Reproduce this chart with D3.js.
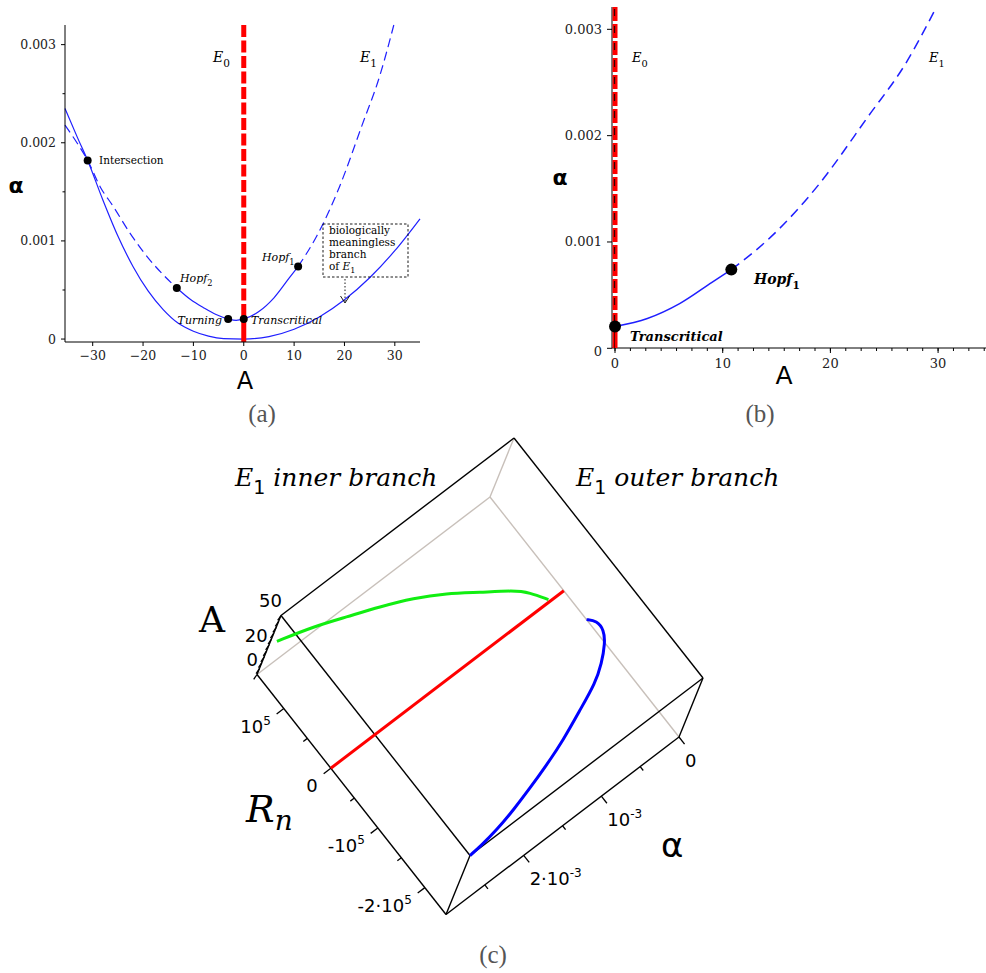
<!DOCTYPE html>
<html>
<head>
<meta charset="utf-8">
<script src="https://cdn.jsdelivr.net/npm/d3@7"></script>
<style>
  body { margin: 0; background: #fff; }
  svg { display: block; }
</style>
</head>
<body>
<svg id="fig" width="986" height="973"></svg>
<script>
// ---- data ----
// E1 inner branch (upper curve of panel a), A vs alpha
const innerA     = [-35.5, -33, -31, -28.5, -25.9, -22.6, -19.2, -15.9, -13.3, -10.5, -8, -5.5, -3.1, -1.5, 0, 3, 6, 9, 10.8, 14.5, 19, 23.5, 27, 29.8];
const innerAlpha = [0.00218, 0.00199, 0.00182, 0.00155, 0.00135, 0.00108, 0.00084, 0.00065, 0.00052, 0.0004, 0.00032, 0.00025, 0.000205, 0.00019, 0.000205, 0.00028, 0.00042, 0.00062, 0.00074, 0.00105, 0.00155, 0.00218, 0.00268, 0.0032];
// E1 outer branch (lower solid curve of panel a)
const outerA     = [-35.5, -33, -31, -28, -25, -22, -19, -16, -13, -10, -7, -4, 0, 5, 10, 15, 20, 25, 30, 35];
const outerAlpha = [0.00235, 0.00205, 0.00182, 0.00142, 0.00105, 0.00074, 0.00049, 0.0003, 0.00016, 0.00008, 0.00003, 0.000005, 0, 0.000025, 0.0001, 0.000225, 0.0004, 0.000625, 0.0009, 0.001225];
// bifurcation points
const pointNames = ["Intersection", "Hopf2", "Turning", "Transcritical", "Hopf1"];
const pointA     = [-31, -13.3, -3.1, 0, 10.8];
const pointAlpha = [0.00182, 0.00052, 0.000205, 0.000205, 0.00074];

const ticksXa = [-30, -20, -10, 0, 10, 20, 30];
const ticksXb = [0, 10, 20, 30];
const ticksAlpha = [0, 0.001, 0.002, 0.003];
const minorAlpha = [0.0005, 0.0015, 0.0025];

// panel c: 3d curves (A, alpha, Rn)
const greenA     = [0, 3, 6, 10, 14, 18, 22, 25, 28, 30];
const greenAlpha = [0.00018, 0.00032, 0.00047, 0.0008, 0.00112, 0.00146, 0.00183, 0.0022, 0.00256, 0.00297];
const greenRn    = [3000, 22800, 35200, 56700, 78800, 96800, 111100, 124600, 138300, 150200];
const blueA     = [0, 6.6, 11, 14, 18, 21, 25, 30, 34, 38, 42, 45, 48, 50];
const blueAlpha = [0, 0, 0.00005, 0.00016, 0.00036, 0.00057, 0.00091, 0.00129, 0.00163, 0.00196, 0.00227, 0.00257, 0.00284, 0.003];
const blueRn    = [-48400, -63200, -82550, -99838, -121546, -139676, -159093, -181444, -197765, -212277, -225061, -235352, -242065, -245000];
const redA = [0, 0], redAlpha = [0, 0.003], redRn = [0, 0];

const cTicksA = [0, 5, 10, 15, 20, 25, 30, 35, 40, 45, 50];
const cLabelsA = [0, 20, 50];
const cTicksRn = [-200000, -100000, 0, 100000];
const cLabelsRn = ["-2\u00b710", "-10", "0", "10"];
const cMinorRn = [-150000, -50000, 50000];
const cTicksAlpha = [0, 0.001, 0.002];
const cLabelsAlpha = ["0", "10", "2\u00b710"];
const cMinorAlpha = [0.0005, 0.0015, 0.0025];

let svg = d3.select("#fig");
let serif = "'DejaVu Serif', 'Liberation Serif', serif";
let sans = "'DejaVu Sans', sans-serif";
let blue = "#1f1fff";

function pts(xs, ys) { return xs.map((x, i) => [x, ys[i]]); }

// text with a subscript
function subLabel(g, x, y, main, sub, size, italic, anchor) {
  let t = g.append("text")
    .attr("x", x).attr("y", y)
    .attr("text-anchor", anchor || "start")
    .style("font-family", serif)
    .style("font-size", size + "px")
    .style("font-style", italic ? "italic" : "normal");
  t.append("tspan").text(main);
  t.append("tspan").attr("dy", size * 0.35).style("font-size", (size * 0.75) + "px").style("font-style", "normal").text(sub);
  return t;
}

// ---------------- panel (a) ----------------
let ga = svg.append("g");
let xa = d3.scaleLinear().domain([-35.5, 35]).range([65, 420]);
let ya = d3.scaleLinear().domain([-0.00003, 0.0032]).range([342, 25]);
let lineA = d3.line().x(d => xa(d[0])).y(d => ya(d[1])).curve(d3.curveMonotoneX);

let inner = pts(innerA, innerAlpha);
let hopf2 = pointA[1], hopf1 = pointA[4];

// outer branch, solid
ga.append("path").attr("d", lineA(pts(outerA, outerAlpha)))
  .attr("fill", "none").attr("stroke", blue).attr("stroke-width", 1.2);
// inner branch: dashed (unstable) / solid (stable)
ga.append("path").attr("d", lineA(inner.filter(d => d[0] <= hopf2)))
  .attr("fill", "none").attr("stroke", blue).attr("stroke-width", 1.2).attr("stroke-dasharray", "9,5");
ga.append("path").attr("d", lineA(inner.filter(d => d[0] >= hopf2 && d[0] <= hopf1)))
  .attr("fill", "none").attr("stroke", blue).attr("stroke-width", 1.2);
ga.append("path").attr("d", lineA(inner.filter(d => d[0] >= hopf1)))
  .attr("fill", "none").attr("stroke", blue).attr("stroke-width", 1.2).attr("stroke-dasharray", "9,5");

// E0 line (A = 0)
ga.append("line").attr("x1", xa(0)).attr("x2", xa(0)).attr("y1", ya(0.0032)).attr("y2", ya(pointAlpha[3]))
  .attr("stroke", "#ff0000").attr("stroke-width", 5).attr("stroke-dasharray", "12,3.5");
ga.append("line").attr("x1", xa(0)).attr("x2", xa(0)).attr("y1", ya(pointAlpha[3])).attr("y2", ya(-0.00003))
  .attr("stroke", "#ff0000").attr("stroke-width", 5);

// axes
ga.append("line").attr("x1", 65).attr("x2", 420).attr("y1", 342).attr("y2", 342).attr("stroke", "#000");
ga.append("line").attr("x1", 65).attr("x2", 65).attr("y1", 25).attr("y2", 342).attr("stroke", "#000");
ticksXa.forEach(t => {
  ga.append("line").attr("x1", xa(t)).attr("x2", xa(t)).attr("y1", 342).attr("y2", 346).attr("stroke", "#000");
  ga.append("text").attr("x", xa(t)).attr("y", 360).attr("text-anchor", "middle")
    .style("font-family", serif).style("font-size", "12.5px").style("fill", "#222")
    .text(t < 0 ? "\u2212" + (-t) : t);
});
ticksAlpha.forEach(t => {
  ga.append("line").attr("x1", 61).attr("x2", 65).attr("y1", ya(t)).attr("y2", ya(t)).attr("stroke", "#000");
  ga.append("text").attr("x", 56).attr("y", ya(t) + 4.5).attr("text-anchor", "end")
    .style("font-family", serif).style("font-size", "12.5px").style("fill", "#222")
    .text(t == 0 ? "0" : t.toFixed(3));
});
minorAlpha.forEach(t => {
  ga.append("line").attr("x1", 62.5).attr("x2", 65).attr("y1", ya(t)).attr("y2", ya(t)).attr("stroke", "#000");
});
ga.append("text").attr("x", 16).attr("y", 193).attr("text-anchor", "middle")
  .style("font-family", sans).style("font-size", "22px").style("font-weight", "bold").text("\u03b1");
ga.append("text").attr("x", 245).attr("y", 389).attr("text-anchor", "middle")
  .style("font-family", sans).style("font-size", "24px").text("A");

// points and labels
pointA.forEach((a, i) => {
  ga.append("circle").attr("cx", xa(a)).attr("cy", ya(pointAlpha[i])).attr("r", 4).attr("fill", "#000");
});
ga.append("text").attr("x", 99).attr("y", 164).style("font-family", serif).style("font-size", "10.5px").text(pointNames[0]);
subLabel(ga, 180, 282, "Hopf", "2", 11, true);
subLabel(ga, 262, 261, "Hopf", "1", 11, true);
ga.append("text").attr("x", 222).attr("y", 324).attr("text-anchor", "end")
  .style("font-family", serif).style("font-style", "italic").style("font-size", "11px").text(pointNames[2]);
ga.append("text").attr("x", 251).attr("y", 324)
  .style("font-family", serif).style("font-style", "italic").style("font-size", "11px").text(pointNames[3]);
subLabel(ga, 213, 62, "E", "0", 14, true);
subLabel(ga, 360, 62, "E", "1", 14, true);

// biologically meaningless box
ga.append("rect").attr("x", 323).attr("y", 224).attr("width", 85).attr("height", 53)
  .attr("fill", "none").attr("stroke", "#000").attr("stroke-width", 0.9).attr("stroke-dasharray", "2.5,2");
["biologically", "meaningless", "branch"].forEach((s, i) => {
  ga.append("text").attr("x", 329).attr("y", 234 + i * 12)
    .style("font-family", serif).style("font-size", "10.5px").text(s);
});
let ofE = ga.append("text").attr("x", 329).attr("y", 270).style("font-family", serif).style("font-size", "10.5px");
ofE.append("tspan").text("of ");
ofE.append("tspan").style("font-style", "italic").text("E");
ofE.append("tspan").attr("dy", 3).style("font-size", "8px").text("1");
ga.append("line").attr("x1", 345).attr("x2", 345).attr("y1", 279).attr("y2", 302)
  .attr("stroke", "#000").attr("stroke-width", 0.9).attr("stroke-dasharray", "1.5,2");
ga.append("path").attr("d", "M340.5,296 L345,303 L349.5,296").attr("fill", "none").attr("stroke", "#000").attr("stroke-width", 0.9);

// ---------------- panel (b) ----------------
let gb = svg.append("g");
let xb = d3.scaleLinear().domain([-0.28, 34.45]).range([612, 986]);
let yb = d3.scaleLinear().domain([0, 0.00321]).range([348.3, 7]);
let lineB = d3.line().x(d => xb(d[0])).y(d => yb(d[1])).curve(d3.curveMonotoneX);
let innerRight = inner.filter(d => d[0] >= 0);

gb.append("path").attr("d", lineB(innerRight.filter(d => d[0] <= hopf1)))
  .attr("fill", "none").attr("stroke", blue).attr("stroke-width", 1.5);
gb.append("path").attr("d", lineB(innerRight.filter(d => d[0] >= hopf1)))
  .attr("fill", "none").attr("stroke", blue).attr("stroke-width", 1.5).attr("stroke-dasharray", "10,6");

// axes
gb.append("line").attr("x1", 612).attr("x2", 986).attr("y1", 348).attr("y2", 348).attr("stroke", "#000");
gb.append("line").attr("x1", 612).attr("x2", 612).attr("y1", 7).attr("y2", 348).attr("stroke", "#000");
d3.range(0, 34.4, 10 / 7).forEach(t => {
  gb.append("line").attr("x1", xb(t)).attr("x2", xb(t)).attr("y1", 348).attr("y2", 351).attr("stroke", "#000");
});
ticksXb.forEach(t => {
  gb.append("line").attr("x1", xb(t)).attr("x2", xb(t)).attr("y1", 348).attr("y2", 353).attr("stroke", "#000");
  gb.append("text").attr("x", xb(t)).attr("y", 368).attr("text-anchor", "middle")
    .style("font-family", serif).style("font-size", "13px").style("fill", "#222").text(t);
});
ticksAlpha.forEach(t => {
  gb.append("line").attr("x1", 607).attr("x2", 612).attr("y1", yb(t)).attr("y2", yb(t)).attr("stroke", "#000");
  gb.append("text").attr("x", 602).attr("y", yb(t) + (t == 0 ? 8 : 4.5)).attr("text-anchor", "end")
    .style("font-family", serif).style("font-size", "13px").style("fill", "#222")
    .text(t == 0 ? "0" : t.toFixed(3));
});

// E0 line
gb.append("line").attr("x1", xb(0)).attr("x2", xb(0)).attr("y1", 7).attr("y2", yb(pointAlpha[3]))
  .attr("stroke", "#ff0000").attr("stroke-width", 5).attr("stroke-dasharray", "14,3");
gb.append("line").attr("x1", xb(0) - 0.5).attr("x2", xb(0) - 0.5).attr("y1", 9).attr("y2", yb(pointAlpha[3]))
  .attr("stroke", "#300").attr("stroke-width", 1.3).attr("stroke-dasharray", "7,10");
gb.append("line").attr("x1", xb(0)).attr("x2", xb(0)).attr("y1", yb(pointAlpha[3])).attr("y2", 348)
  .attr("stroke", "#ff0000").attr("stroke-width", 5);
gb.append("line").attr("x1", xb(0) - 0.5).attr("x2", xb(0) - 0.5).attr("y1", yb(pointAlpha[3])).attr("y2", 348)
  .attr("stroke", "#600").attr("stroke-width", 1);

[3, 4].forEach(i => {
  gb.append("circle").attr("cx", xb(pointA[i])).attr("cy", yb(pointAlpha[i])).attr("r", 6).attr("fill", "#000");
});
gb.append("text").attr("x", 630).attr("y", 341)
  .style("font-family", serif).style("font-style", "italic").style("font-weight", "bold").style("font-size", "13px").text(pointNames[3]);
let h1 = subLabel(gb, 754, 284, "Hopf", "1", 14, true);
h1.style("font-weight", "bold");
subLabel(gb, 632, 62, "E", "0", 13, true);
subLabel(gb, 929, 62, "E", "1", 13, true);
gb.append("text").attr("x", 560).attr("y", 185).attr("text-anchor", "middle")
  .style("font-family", sans).style("font-size", "22px").style("font-weight", "bold").text("\u03b1");
gb.append("text").attr("x", 784).attr("y", 384).attr("text-anchor", "middle")
  .style("font-family", sans).style("font-size", "25px").text("A");

// panel captions
[["(a)", 262, 422], ["(b)", 760, 422], ["(c)", 493, 963]].forEach(c => {
  svg.append("text").attr("x", c[1]).attr("y", c[2]).attr("text-anchor", "middle")
    .style("font-family", "'Liberation Serif', 'DejaVu Serif', serif").style("font-size", "25px").style("fill", "#555").text(c[0]);
});

// ---------------- panel (c) ----------------
let gc = svg.append("g");
let sA = d3.scaleLinear().domain([0, 50]).range([0, 1]);
let sR = d3.scaleLinear().domain([-245000, 157000]).range([0, 1]);
let sAl = d3.scaleLinear().domain([0, 0.003]).range([0, 1]);
// screen position of (A=0, Rn=min, alpha=0) and the box edge vectors
let origin = [679, 737], vA = [24, -59], vR = [-189, -240], vAl = [-233, 177.5];
function proj(a, r, al) {
  let u = sA(a), v = sR(r), w = sAl(al);
  return [origin[0] + vA[0] * u + vR[0] * v + vAl[0] * w,
          origin[1] + vA[1] * u + vR[1] * v + vAl[1] * w];
}
let A0 = 0, A1 = 50, R0 = -245000, R1 = 157000, L0 = 0, L1 = 0.003;
let hidden = [
  [[A0, R1, L0], [A1, R1, L0]],
  [[A0, R1, L0], [A0, R1, L1]],
  [[A0, R0, L0], [A0, R1, L0]]
];
let visible = [
  [[A0, R1, L1], [A1, R1, L1]],
  [[A1, R1, L0], [A1, R1, L1]],
  [[A1, R0, L0], [A1, R1, L0]],
  [[A0, R0, L0], [A1, R0, L0]],
  [[A1, R0, L0], [A1, R0, L1]],
  [[A0, R0, L1], [A1, R0, L1]],
  [[A1, R0, L1], [A1, R1, L1]],
  [[A0, R0, L1], [A0, R1, L1]],
  [[A0, R0, L0], [A0, R0, L1]]
];
function edge(e, color) {
  let p = proj(...e[0]), q = proj(...e[1]);
  gc.append("line").attr("x1", p[0]).attr("y1", p[1]).attr("x2", q[0]).attr("y2", q[1])
    .attr("stroke", color).attr("stroke-width", 1.4);
}
hidden.forEach(e => edge(e, "#c8c0ba"));
visible.forEach(e => edge(e, "#000"));

function tick(p, dir, len) {
  gc.append("line").attr("x1", p[0]).attr("y1", p[1]).attr("x2", p[0] + dir[0] * len).attr("y2", p[1] + dir[1] * len)
    .attr("stroke", "#000").attr("stroke-width", 1.3);
}
let outAl = [-0.795, 0.606], outR = [0.619, 0.786], hatch = [-0.55, 0.83];
cTicksA.forEach(a => tick(proj(a, R1, L1), hatch, 6));
cTicksRn.forEach(r => tick(proj(A0, r, L1), outAl, 9));
cMinorRn.forEach(r => tick(proj(A0, r, L1), outAl, 5));
cTicksAlpha.forEach(al => tick(proj(A0, R0, al), outR, 9));
cMinorAlpha.forEach(al => tick(proj(A0, R0, al), outR, 5));

cLabelsA.forEach(a => {
  let p = proj(a, R1, L1);
  gc.append("text").attr("x", p[0] + 1).attr("y", p[1] - 9).attr("text-anchor", "end")
    .style("font-family", sans).style("font-size", "18px").text(a);
});
cTicksRn.forEach((r, i) => {
  let p = proj(A0, r, L1);
  let t = gc.append("text").attr("x", p[0] - 13).attr("y", p[1] + 24).attr("text-anchor", "end")
    .style("font-family", sans).style("font-size", "18px");
  t.append("tspan").text(cLabelsRn[i]);
  if (r != 0) t.append("tspan").attr("dy", -8).style("font-size", "12px").text("5");
});
cTicksAlpha.forEach((al, i) => {
  let p = proj(A0, R0, al);
  let t = gc.append("text").attr("x", p[0] + 6).attr("y", p[1] + 30)
    .style("font-family", sans).style("font-size", "18px");
  t.append("tspan").text(cLabelsAlpha[i]);
  if (al != 0) t.append("tspan").attr("dy", -8).style("font-size", "12px").text("-3");
});

// curves
let line3 = d3.line().curve(d3.curveBasis);
function curve3(as, als, rs, color) {
  let p = as.map((a, i) => proj(a, rs[i], als[i]));
  gc.append("path").attr("d", line3(p)).attr("fill", "none").attr("stroke", color).attr("stroke-width", 3);
}
curve3(redA, redAlpha, redRn, "#ff0000");
curve3(greenA, greenAlpha, greenRn, "#11ee11");
curve3(blueA, blueAlpha, blueRn, "#0000ff");

// axis titles and branch names
gc.append("text").attr("x", 199).attr("y", 632).style("font-family", serif).style("font-size", "36px").text("A");
let rn = gc.append("text").attr("x", 246).attr("y", 822).style("font-family", serif).style("font-style", "italic").style("font-size", "38px");
rn.append("tspan").text("R");
rn.append("tspan").attr("dy", 8).style("font-size", "28px").text("n");
gc.append("text").attr("x", 661).attr("y", 857).style("font-family", sans).style("font-size", "34px").text("\u03b1");

function branchTitle(x, word) {
  let t = gc.append("text").attr("x", x).attr("y", 486).style("font-family", serif).style("font-style", "italic").style("font-size", "25px");
  t.append("tspan").text("E");
  t.append("tspan").attr("dy", 8).style("font-style", "normal").style("font-family", sans).style("font-size", "19px").text("1");
  t.append("tspan").attr("dy", -8).text(" " + word + " branch");
}
branchTitle(235, "inner");
branchTitle(576, "outer");
</script>
</body>
</html>
